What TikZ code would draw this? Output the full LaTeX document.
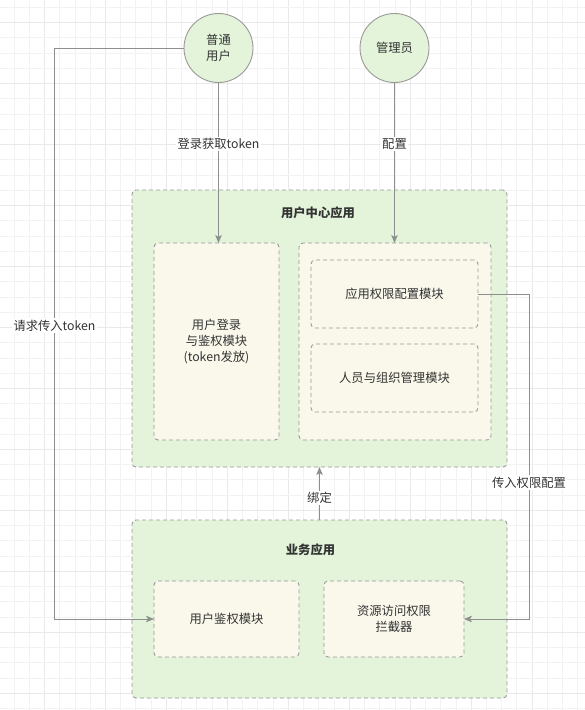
\documentclass[tikz,border=0pt]{standalone}
\usepackage{fontspec}
\setmainfont{Noto Sans CJK SC}
\usetikzlibrary{arrows.meta}

\definecolor{gridminor}{HTML}{F2F2F2}
\definecolor{gridmajor}{HTML}{E9E9E9}
\definecolor{appgreen}{HTML}{E3F4DA}
\definecolor{modcream}{HTML}{FAF8EB}
\definecolor{edgegray}{HTML}{999999}
\definecolor{linegray}{HTML}{8E8E8E}
\definecolor{txtgray}{HTML}{333333}

\tikzset{
  every node/.style={font=\fontsize{12.3}{16}\selectfont, text=txtgray},
  actor/.style={circle, draw=edgegray, fill=appgreen, line width=0.9pt, minimum size=69pt, inner sep=0pt, outer sep=0pt, align=center},
  appbox/.style={rectangle, draw=edgegray, fill=appgreen, line width=0.9pt, dash pattern=on 4pt off 3pt, rounded corners=4pt, inner sep=0pt, outer sep=0pt},
  modbox/.style={rectangle, draw=edgegray, fill=modcream, line width=0.9pt, dash pattern=on 4pt off 3pt, rounded corners=4pt, inner sep=0pt, outer sep=0pt, align=center},
  apptitle/.style={font=\fontsize{12.3}{16}\selectfont\bfseries},
  flow/.style={draw=linegray, line width=0.8pt, -{Stealth[length=8pt,width=6.5pt,inset=2pt]}},
  flowlabel/.style={fill=white, inner sep=1.5pt}
}

\begin{document}
\begin{tikzpicture}[x=1pt,y=1pt,yscale=-1]

\useasboundingbox (0,0) rectangle (585,710);
\fill [white] (0,0) rectangle (585,710);

% background grid
\foreach \i in {0,...,38} {
  \pgfmathtruncatemacro{\m}{mod(\i,4)}
  \ifnum\m=3
    \draw [gridmajor, line width=1.3pt] ({14+15.24*(\i-1)}, 0) -- ({14+15.24*(\i-1)}, 710);
  \else
    \draw [gridminor, line width=0.9pt] ({14+15.24*(\i-1)}, 0) -- ({14+15.24*(\i-1)}, 710);
  \fi
}
\foreach \i in {0,...,46} {
  \pgfmathtruncatemacro{\m}{mod(\i,4)}
  \ifnum\m=1
    \draw [gridmajor, line width=1.3pt] (0, {7.46+15.24*\i}) -- (585, {7.46+15.24*\i});
  \else
    \draw [gridminor, line width=0.9pt] (0, {7.46+15.24*\i}) -- (585, {7.46+15.24*\i});
  \fi
}

% actors
\node [actor] (user) at (218.5, 48) {普通\\用户};
\node [actor] (admin) at (394.5, 48) {管理员};

% user center app
\node [appbox, minimum width=375pt, minimum height=277pt] (ucenter) at (319.5, 328.5) {};
\node [apptitle] (ucentertitle) at (318, 213) {用户中心应用};
\node [modbox, minimum width=125pt, minimum height=197pt] (login) at (216.5, 341.5) {用户登录\\与鉴权模块\\(token发放)};
\node [modbox, minimum width=192pt, minimum height=197pt] (mgmt) at (395, 341.5) {};
\node [modbox, minimum width=167pt, minimum height=68pt] (perm) at (394.5, 294) {应用权限配置模块};
\node [modbox, minimum width=167pt, minimum height=68pt] (org) at (394.5, 378) {人员与组织管理模块};

% business app
\node [appbox, minimum width=375pt, minimum height=178pt] (biz) at (319.5, 609) {};
\node [apptitle] (biztitle) at (310.5, 550) {业务应用};
\node [modbox, minimum width=145pt, minimum height=76pt] (auth) at (226.5, 619) {用户鉴权模块};
\node [modbox, minimum width=140pt, minimum height=76pt] (guard) at (394, 619) {资源访问权限\\拦截器};

% connectors
\coordinate (leftbend) at (54.5, 48);
\coordinate (rightbend) at (529, 294);

\draw [flow] (user.south) -- node [flowlabel, pos=0.385] {登录获取token} (user.south |- login.north);
\draw [flow] (admin.south) -- node [flowlabel, pos=0.385] {配置} (admin.south |- mgmt.north);
\draw [flow] (biz.north) -- node [flowlabel, pos=0.42] {绑定} (biz.north |- ucenter.south);
\draw [flow] (perm.east) -- (rightbend) |- node [flowlabel, pos=0.29] {传入权限配置} (guard.east);
\draw [flow] (user.west) -- (leftbend) |- node [flowlabel, pos=0.243] {请求传入token} (auth.west);

\end{tikzpicture}
\end{document}
